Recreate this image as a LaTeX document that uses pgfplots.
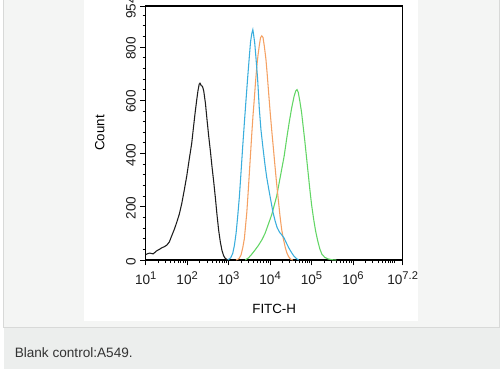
\documentclass[border=0pt]{standalone}
\usepackage{pgfplots}
\pgfplotsset{compat=1.18}
\usepackage{fontspec}
\setmainfont{Liberation Sans}
\definecolor{panel}{HTML}{F4F5F4}
\definecolor{panelborder}{HTML}{D8D9D8}
\definecolor{capbar}{HTML}{ECEEED}
\definecolor{cblack}{HTML}{1E1E1E}
\definecolor{cblue}{HTML}{3AAEDD}
\definecolor{corange}{HTML}{F5A163}
\definecolor{cgreen}{HTML}{62D665}
\newcommand\sx[1]{10\raisebox{0.72ex}{\fontsize{8.4}{9}\selectfont #1}}
\begin{document}
\begin{tikzpicture}[x=0.75pt,y=-0.75pt]
\useasboundingbox (0,0) rectangle (500,369);
\fill[white] (0,0) rectangle (500,369);
\filldraw[fill=panel,draw=panelborder,line width=0.75pt] (3.5,-2) rectangle (499,327.5);
\fill[capbar] (3.5,328) rectangle (500,369);
\fill[white] (83.5,0) rectangle (418,320.7);
\node[anchor=base west,inner sep=0pt,text=black!80,font=\fontsize{10.2}{12}\selectfont] at (14.5,357) {Blank control:A549.};
\begin{axis}[
  at={(109.275pt,-195pt)}, anchor=south west,
  scale only axis, width=192.75pt, height=190.5pt,
  xmode=log, xmin=10, xmax=15848932, ymin=0, ymax=954,
  xtick={10,100,1000,10000,100000,1000000,15848932},
  xticklabels={\sx{1},\sx{2},\sx{3},\sx{4},\sx{5},\sx{6},\sx{7.2}},
  minor xtick={20,30,40,50,60,70,80,90,200,300,400,500,600,700,800,900,2000,3000,4000,5000,6000,7000,8000,9000,2e4,3e4,4e4,5e4,6e4,7e4,8e4,9e4,2e5,3e5,4e5,5e5,6e5,7e5,8e5,9e5,2e6,3e6,4e6,5e6,6e6,7e6,8e6,9e6,1e7},
  ytick={0,200,400,600,800,954},
  yticklabels={0,200,400,600,800,954},
  minor ytick={40,80,120,160,240,280,320,360,440,480,520,560,640,680,720,760,840,880,920},
  tick align=outside, major tick length=4pt, minor tick length=2.3pt,
  tick style={black, line width=0.6pt},
  xtick pos=bottom, ytick pos=left,
  axis line style={black, line width=0.8pt},
  tick label style={text=black!88, font=\fontsize{10.2}{12}\selectfont},
  xticklabel style={yshift=-1pt},
  yticklabel style={rotate=90, anchor=south, xshift=-1pt},
  xlabel={FITC-H}, ylabel={Count},
  label style={text=black!88, font=\fontsize{11}{13}\selectfont},
  every axis x label/.style={at={(axis description cs:0.5,-0.193)},anchor=center},
  every axis y label/.style={at={(axis description cs:-0.179,0.5)},rotate=90,anchor=center},
  clip=true,
]
\addplot[cblack, line width=0.8pt] coordinates {
(10,20)(11.2,24)(12.6,26)(15.1,23)(18.6,35)(21.4,40)(24.5,46)(28.2,50)(32.4,56)(37.2,68)
(42.7,92)(49.0,115)(56.2,142)(64.6,172)(74.1,212)(85.1,262)(97.7,315)(112.2,378)(128.8,438)
(141.3,495)(154.9,550)(169.8,600)(182.0,635)(195.0,660)(204.2,664)(218.8,655)(234.4,652)
(251.2,635)(275.4,590)(302.0,526)(331.1,465)(363.1,410)(398.1,350)(436.5,295)(478.6,235)
(524.8,170)(575.4,112)(631.0,68)(691.8,36)(758.6,16)(831.8,6)(912.0,2)(1000,0)
};
\addplot[cgreen, line width=0.8pt] coordinates {
(2512,0)(3020,8)(3631,22)(4365,38)(5248,55)(6310,75)(7586,100)(9120,135)(10965,170)
(12589,205)(14454,240)(16596,290)(19055,340)(21878,390)(25119,455)(28840,515)(33113,570)
(38019,615)(41687,635)(44668,640)(47863,630)(52481,595)(57544,555)(63096,500)(69183,445)
(75858,385)(83176,325)(91201,265)(100000,210)(112202,155)(125893,108)(141254,72)
(158489,42)(177828,22)(208930,10)(251189,4)(316228,1)(398107,0)
};
\addplot[corange, line width=0.8pt] coordinates {
(1514,0)(1778,5)(1995,19)(2188,45)(2399,80)(2570,130)(2754,180)(2951,250)(3162,325)
(3388,400)(3631,476)(3890,545)(4169,605)(4467,670)(4786,726)(5129,770)(5495,805)
(5888,835)(6310,842)(6761,836)(7244,805)(7943,755)(8511,700)(9120,640)(10000,560)
(10965,488)(12023,420)(13183,351)(14454,285)(15849,225)(17378,165)(19055,115)
(20893,80)(23442,45)(25704,25)(28184,12)(31623,3)(35481,0)
};
\addplot[cblue, line width=0.8pt] coordinates {
(955,0)(1122,8)(1259,25)(1380,55)(1514,100)(1660,165)(1820,238)(1995,330)(2188,426)
(2399,515)(2630,601)(2884,685)(3162,764)(3388,820)(3631,851)(3846,865)(3981,850)
(4266,815)(4571,760)(5012,680)(5495,570)(6026,490)(6761,420)(7586,355)(8318,310)
(9333,265)(10471,222)(11749,180)(13183,148)(14791,122)(16982,104)(19055,95)(21878,82)
(25119,62)(28184,46)(32359,30)(37154,16)(42658,6)(48978,0)
};
\end{axis}
\end{tikzpicture}
\end{document}
